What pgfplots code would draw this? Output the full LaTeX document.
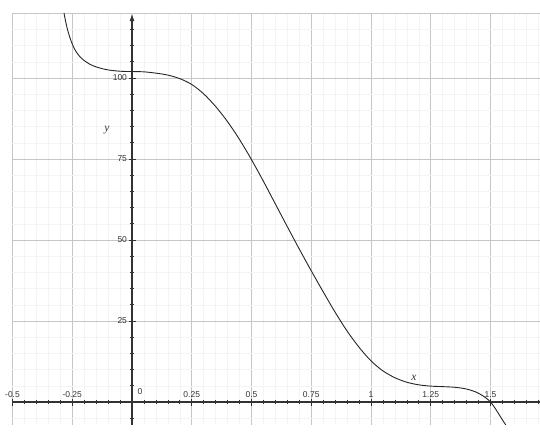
\documentclass[border=0pt]{standalone}
\usepackage{pgfplots}
\pgfplotsset{compat=1.18}
\usepackage{fontspec}
\setmainfont{Liberation Sans}
\newfontfamily\seriffont{Liberation Serif}
\usetikzlibrary{arrows.meta}
\definecolor{axisgray}{HTML}{333333}
\begin{document}
\begin{tikzpicture}
\useasboundingbox (-12.5pt,-6.3pt) rectangle (527.5pt,424.7pt);
\clip (-12.5pt,-6.3pt) rectangle (527.5pt,424.7pt);
\begin{axis}[
  scale only axis, width=535.36pt, height=411.5pt,
  xmin=-0.5, xmax=1.74, ymin=-7, ymax=120,
  axis lines=middle,
  axis line style={axisgray, line width=1.1pt, -{Latex[length=8pt,width=5pt]}},
  xtick distance=0.25, ytick distance=25,
  minor x tick num=4, minor y tick num=4,
  tick align=center,
  major tick length=7pt, minor tick length=4pt,
  tick style={axisgray, line width=0.9pt},
  minor tick style={axisgray, line width=0.7pt},
  grid=both,
  major grid style={gray!45, line width=0.6pt},
  minor grid style={gray!9, line width=0.5pt},
  extra y ticks={120}, extra y tick labels={},
  extra y tick style={major tick length=0pt, grid=major},
  /pgf/number format/assume math mode=true,
  xticklabel style={anchor=south, yshift=4pt, font=\fontsize{8.5}{10}\selectfont, text=axisgray},
  yticklabel style={anchor=east, xshift=2pt, font=\fontsize{8.5}{10}\selectfont, text=axisgray},
]
\addplot[black!85, line width=0.9pt, smooth, tension=0.5] coordinates {
(-0.3,127.6) (-0.29,122.4) (-0.28,118.3) (-0.27,115.0) (-0.26,112.5)
(-0.25,110.5) (-0.24,108.9) (-0.23,107.7) (-0.22,106.75) (-0.21,106.0)
(-0.2,105.4) (-0.18,104.4) (-0.16,103.7) (-0.14,103.2) (-0.12,102.8)
(-0.1,102.5) (-0.08,102.3) (-0.06,102.15) (-0.04,102.05) (-0.02,102.01)
(0,102) (0.05,101.9) (0.1,101.5) (0.15,100.9) (0.2,99.8) (0.25,98.0)
(0.3,95.1) (0.35,91.2) (0.4,86.5) (0.45,81.0) (0.5,74.8) (0.55,68.1)
(0.6,61.1) (0.65,54.1) (0.7,47.2) (0.75,40.5) (0.8,34.0) (0.85,27.7)
(0.9,21.9) (0.95,16.9) (1.0,12.7) (1.05,9.6) (1.1,7.5) (1.15,6.1)
(1.2,5.3) (1.25,4.9) (1.3,4.75) (1.35,4.55) (1.4,4.0) (1.45,2.7)
(1.5,0) (1.55,-5.5) (1.58,-9)
};
\node[font=\seriffont\itshape\fontsize{11.5}{12}\selectfont, text=axisgray] at (axis cs:-0.105,84) {y};
\node[font=\seriffont\itshape\fontsize{11.5}{12}\selectfont, text=axisgray] at (axis cs:1.18,7.4) {x};
\node[anchor=south, yshift=4pt, xshift=8pt, font=\fontsize{8.5}{10}\selectfont, text=axisgray] at (axis cs:0,0) {0};
\end{axis}
\end{tikzpicture}
\end{document}
